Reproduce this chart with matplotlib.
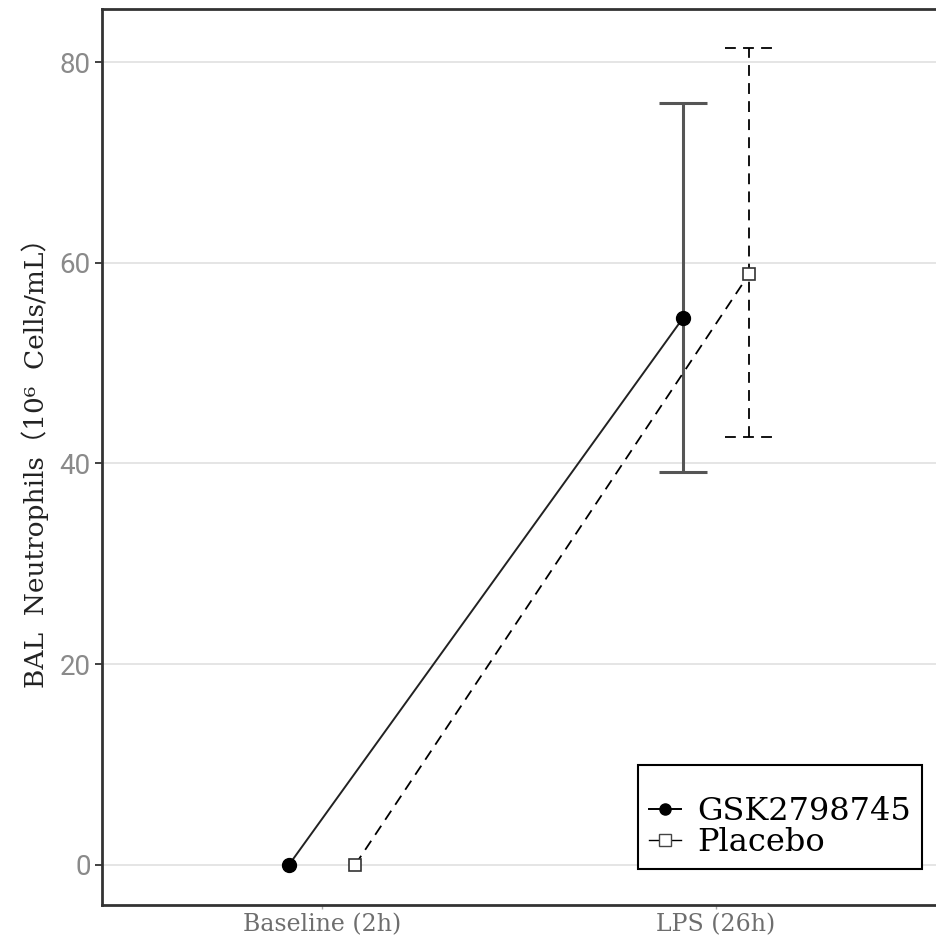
import matplotlib
matplotlib.use("Agg")
import matplotlib.pyplot as plt
from matplotlib.lines import Line2D

categories = ["Baseline (2h)", "LPS (26h)"]
gsk_mean = [0.0, 54.5]
gsk_lo = [None, 39.2]
gsk_hi = [None, 75.9]
placebo_mean = [0.0, 58.9]
placebo_lo = [None, 42.6]
placebo_hi = [None, 81.4]
series_labels = ["GSK2798745", "Placebo"]
yticks = [0, 20, 40, 60, 80]

fig = plt.figure(figsize=(9.36, 9.47), dpi=100)
ax = fig.add_axes([0.109, 0.0444, 0.891, 0.9461])

x = [1, 2]
dodge = 0.084
cap = 0.061
xg = [v - dodge for v in x]
xp = [v + dodge for v in x]

# grid
for t in yticks:
    ax.axhline(t, color="#e3e3e3", lw=1.3, zorder=0)

# error bars
for xi, lo, hi in zip(xg, gsk_lo, gsk_hi):
    if lo is None:
        continue
    ax.vlines(xi, lo, hi, color="#555555", lw=2.2, zorder=2)
    ax.hlines([lo, hi], xi - cap, xi + cap, color="#555555", lw=2.2, zorder=2)
for xi, lo, hi in zip(xp, placebo_lo, placebo_hi):
    if lo is None:
        continue
    ax.vlines(xi, lo, hi, color="black", lw=1.3, linestyles=(0, (6, 4)), zorder=2)
    ax.hlines([lo, hi], xi - cap, xi + cap, color="black", lw=1.3, linestyles=(0, (6, 4)), zorder=2)

# lines
ax.plot(xg, gsk_mean, color="#222222", lw=1.4, marker="o", markersize=10,
        markerfacecolor="black", markeredgecolor="black", zorder=3)
ax.plot(xp, placebo_mean, color="black", lw=1.3, linestyle=(0, (6, 4)), marker="s",
        markersize=9, markerfacecolor="white", markeredgecolor="#333333",
        markeredgewidth=1.2, zorder=3)

ax.set_xlim(0.4416, 2.558)
ax.set_ylim(-4.0, 85.3)
ax.set_xticks(x)
ax.set_xticklabels(categories, family="DejaVu Serif", fontsize=17, color="#6e6e6e")
ax.set_yticks(yticks)
ax.set_yticklabels([str(t) for t in yticks], family="Roboto", fontsize=20,
                   color="#8a8a8a")
ax.tick_params(axis="y", length=5, width=1.3, color="#333333", pad=3)
ax.tick_params(axis="x", length=3, width=1, color="#aaaaaa", pad=3)

for s in ["left", "bottom", "top"]:
    ax.spines[s].set_linewidth(2.0)
    ax.spines[s].set_color("#333333")
ax.spines["right"].set_visible(False)

ax.set_ylabel("BAL  Neutrophils（10⁶  Cells/mL）",
              family=["DejaVu Serif", "Noto Sans CJK SC"], fontsize=19,
              color="#222222", labelpad=8)

handles = [
    Line2D([0], [0], color="black", lw=1.4, marker="o", markersize=8,
           markerfacecolor="black"),
    Line2D([0], [0], color="black", lw=1.0, marker="s", markersize=8,
           markerfacecolor="white", markeredgecolor="#444444"),
]
leg = ax.legend(handles, series_labels, loc="lower right",
                bbox_to_anchor=(0.983, 0.040), borderaxespad=0, title=" ",
                prop={"family": "DejaVu Serif", "size": 23},
                title_fontsize=15, handlelength=1.0, handletextpad=0.5,
                labelspacing=0.0, borderpad=0.35, frameon=True, fancybox=False,
                framealpha=1)
leg.get_frame().set_edgecolor("black")
leg.get_frame().set_linewidth(1.5)

fig.savefig("out.png", dpi=100)
